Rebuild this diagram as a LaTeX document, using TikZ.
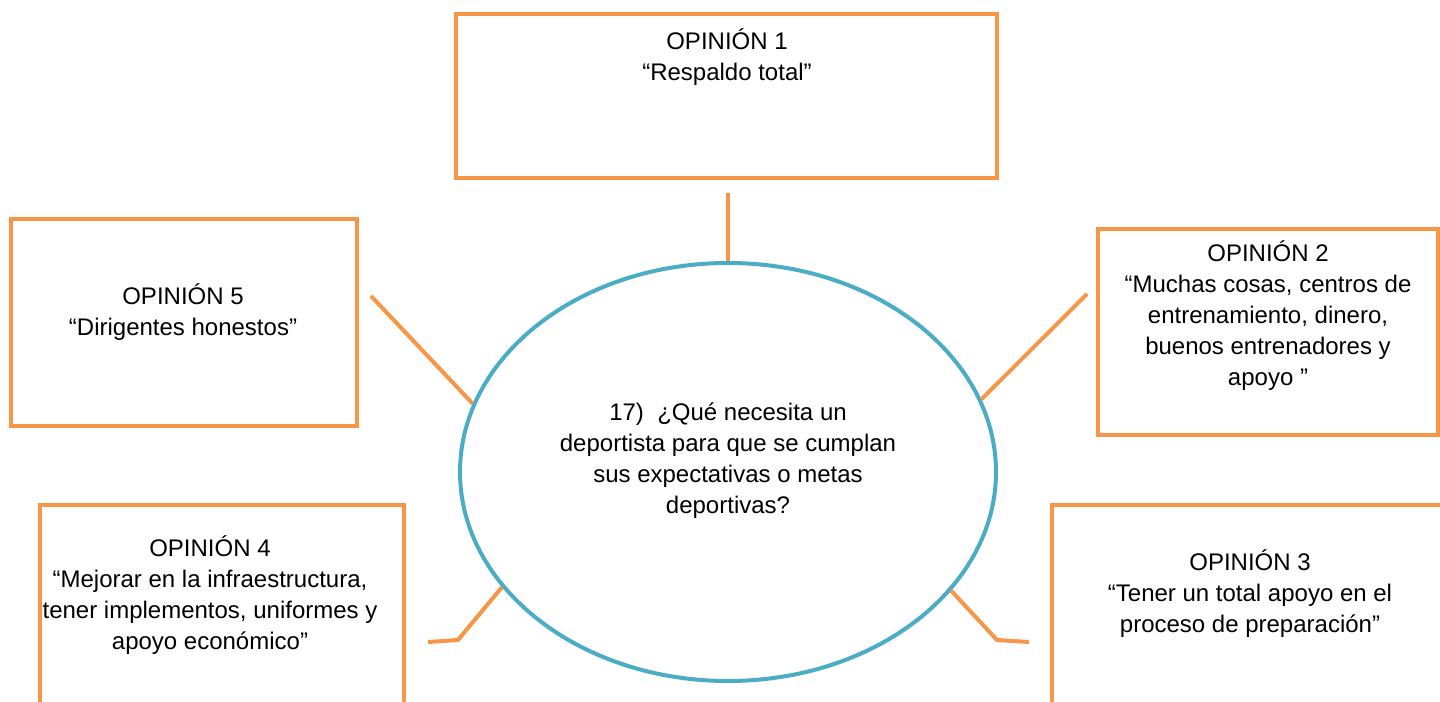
\documentclass[tikz,border=0pt]{standalone}
\usepackage{fontspec}
\setmainfont{Liberation Sans}
\usetikzlibrary{shapes.geometric}

\definecolor{opOrange}{HTML}{F79646}
\definecolor{opBlue}{HTML}{4BACC6}

\tikzset{
    opbox/.style={draw=opOrange, line width=3pt, inner sep=0pt},
    optext/.style={align=center, inner sep=0pt, font=\fontsize{18}{23.25}\selectfont},
    link/.style={draw=opOrange, line width=3pt}
}

\begin{document}
\begin{tikzpicture}[x=0.75pt, y=-0.75pt]

% Page
\useasboundingbox (0,0) rectangle (1440,702);
\clip (0,0) rectangle (1440,702);

% Question
\node[draw=opBlue, line width=3pt, ellipse, minimum width=402pt, minimum height=313.5pt] (q) at (728,472) {};
\node[optext] (qt) at (728,461) {17)\ \ ¿Qué necesita un\\deportista para que se cumplan\\sus expectativas o metas\\deportivas?};

% Opinion boxes
\node[opbox, minimum width=405.75pt, minimum height=123pt] (op1) at (726.5,96) {};
\node[opbox, minimum width=255pt, minimum height=154.5pt] (op2) at (1268,332) {};
\node[opbox, minimum width=321pt, minimum height=191.25pt] (op3) at (1266,632.5) {};
\node[opbox, minimum width=273pt, minimum height=191.25pt] (op4) at (222,632.5) {};
\node[opbox, minimum width=259.5pt, minimum height=155.25pt] (op5) at (184,322.5) {};

% Opinion texts
\node[optext] (t1) at (727,57) {OPINIÓN 1\\“Respaldo total”};
\node[optext] (t2) at (1268,316) {OPINIÓN 2\\“Muchas cosas, centros de\\entrenamiento, dinero,\\buenos entrenadores y\\apoyo ”};
\node[optext] (t3) at (1250,594) {OPINIÓN 3\\“Tener un total apoyo en el\\proceso de preparación”};
\node[optext] (t4) at (210,595) {OPINIÓN 4\\“Mejorar en la infraestructura,\\tener implementos, uniformes y\\apoyo económico”};
\node[optext] (t5) at (183,312) {OPINIÓN 5\\“Dirigentes honestos”};

% Free ends of the links
\coordinate (e1) at (728,193);
\coordinate (e2) at (1087,294);
\coordinate (b3) at (997,640);
\coordinate (e3) at (1029,642);
\coordinate (b4) at (458,640);
\coordinate (e4) at (428,642);
\coordinate (e5) at (371,296);

% Links
\draw[link] (q.north) -- (e1);
\draw[link] (q.16) -- (e2);
\draw[link] (q.332) -- (b3) -- (e3);
\draw[link] (q.207) -- (b4) -- (e4);
\draw[link] (q.165) -- (e5);

\end{tikzpicture}
\end{document}
